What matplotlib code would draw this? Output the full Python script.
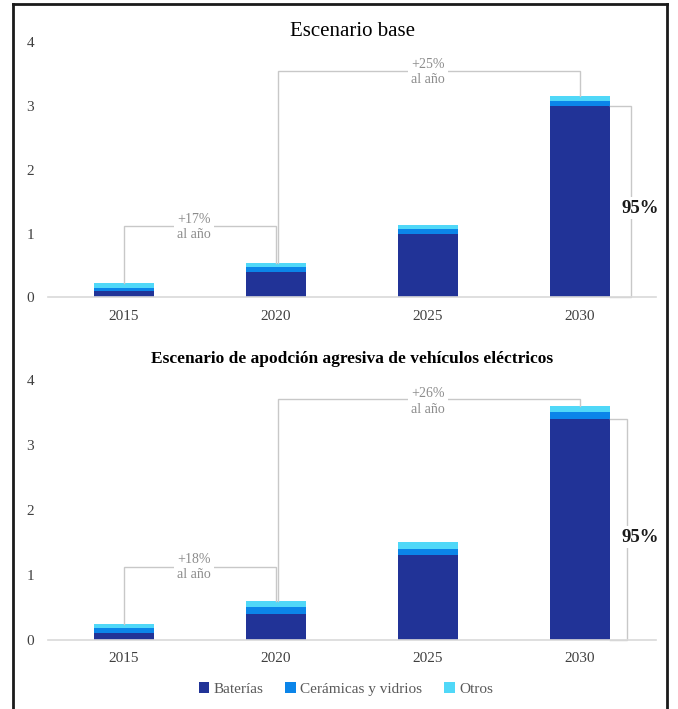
import matplotlib
matplotlib.use("Agg")
import matplotlib.pyplot as plt
from matplotlib.lines import Line2D
import numpy as np

plt.rcParams['font.family'] = ['Liberation Serif', 'DejaVu Serif']

years = ["2015", "2020", "2025", "2030"]
series_names = ["Baterías", "Cerámicas y vidrios", "Otros"]
colors = ["#213397", "#0B85E9", "#50D8F8"]

# Escenario base
base_baterias = [0.10, 0.40, 1.00, 3.00]
base_ceramicas = [0.05, 0.07, 0.07, 0.08]
base_otros = [0.08, 0.07, 0.07, 0.07]

# Escenario agresivo
agr_baterias = [0.10, 0.40, 1.30, 3.40]
agr_ceramicas = [0.07, 0.10, 0.09, 0.10]
agr_otros = [0.07, 0.09, 0.11, 0.10]

titles = ["Escenario base",
          "Escenario de apodción agresiva de vehículos eléctricos"]
growth_labels = [["+17%\nal año", "+25%\nal año"],
                 ["+18%\nal año", "+26%\nal año"]]
share_label = "95%"

fig = plt.figure(figsize=(6.78, 7.09), dpi=100)
ax1 = fig.add_axes([0.0708, 0.5804, 0.8968, 0.3604])
ax2 = fig.add_axes([0.0708, 0.0980, 0.8968, 0.3660])

gray_line = "#c8c8c8"
ann_color = "#8c8c8c"

def draw(ax, bat, cer, otr, title, bold, glabels, bracket_levels, gtext_y, share_x, share_y):
    x = np.arange(len(years))
    bat = np.array(bat); cer = np.array(cer); otr = np.array(otr)
    w = 0.4
    ax.bar(x, bat, w, color=colors[0], label=series_names[0])
    ax.bar(x, cer, w, bottom=bat, color=colors[1], label=series_names[1])
    ax.bar(x, otr, w, bottom=bat + cer, color=colors[2], label=series_names[2])
    tot = bat + cer + otr
    ax.set_xlim(-0.5, 3.5)
    ax.set_ylim(0, 4)
    ax.set_yticks([0, 1, 2, 3, 4])
    ax.set_xticks(x)
    ax.set_xticklabels(years)
    for s in ["top", "right", "left"]:
        ax.spines[s].set_visible(False)
    ax.spines["bottom"].set_color("#d9d9d9")
    ax.spines["bottom"].set_linewidth(1.2)
    ax.tick_params(axis="both", length=0, labelsize=11, colors="#404040")
    ax.tick_params(axis="x", pad=9)
    ax.tick_params(axis="y", pad=10)
    ax.set_title(title, fontsize=15 if not bold else 12.5,
                 fontweight="bold" if bold else "normal", pad=4 if not bold else 12)
    # bracket 1: 2015 -> 2020
    l1 = bracket_levels[0]
    ax.plot([0, 0, 1, 1], [tot[0], l1, l1, tot[1]], color=gray_line, lw=1, solid_joinstyle="miter")
    ax.text(0.46, gtext_y[0], glabels[0], ha="center", va="center", fontsize=10,
            color=ann_color, linespacing=1.25,
            bbox=dict(facecolor="white", edgecolor="none", pad=2))
    # bracket 2: 2020 -> 2030
    l2 = bracket_levels[1]
    ax.plot([1.015, 1.015, 3, 3], [tot[1], l2, l2, tot[3]], color=gray_line, lw=1, solid_joinstyle="miter")
    ax.text(2.0, gtext_y[1], glabels[1], ha="center", va="center", fontsize=10,
            color=ann_color, linespacing=1.25,
            bbox=dict(facecolor="white", edgecolor="none", pad=2))
    # share bracket
    ax.plot([3.2, share_x, share_x, 3.2], [bat[3], bat[3], 0, 0], color=gray_line, lw=1,
            solid_joinstyle="miter", clip_on=False)
    ax.text(3.395, share_y, share_label, ha="center", va="center", fontsize=13.5,
            fontweight="bold", color="#1a1a1a",
            bbox=dict(facecolor="white", edgecolor="none", pad=2))

draw(ax1, base_baterias, base_ceramicas, base_otros, titles[0], False,
     growth_labels[0], [1.12, 3.55], [1.10, 3.53], 3.335, 1.40)
draw(ax2, agr_baterias, agr_ceramicas, agr_otros, titles[1], True,
     growth_labels[1], [1.12, 3.70], [1.12, 3.67], 3.31, 1.58)

handles, labels = ax1.get_legend_handles_labels()
leg = fig.legend(handles, labels, loc="center", bbox_to_anchor=(0.51, 0.028), ncol=3,
                 frameon=False, handlelength=0.7, handleheight=0.7, handletextpad=0.3,
                 columnspacing=1.4, fontsize=11)
for t in leg.get_texts():
    t.set_color("#595959")

# outer frame
fw = 2.0
fig.add_artist(Line2D([13/678, 13/678], [-0.01, 1 - 4/709], transform=fig.transFigure, color="#1a1a1a", lw=fw))
fig.add_artist(Line2D([667/678, 667/678], [-0.01, 1 - 4/709], transform=fig.transFigure, color="#1a1a1a", lw=fw))
fig.add_artist(Line2D([13/678, 667/678], [1 - 4/709, 1 - 4/709], transform=fig.transFigure, color="#1a1a1a", lw=fw))

fig.savefig("out.png", dpi=100)
